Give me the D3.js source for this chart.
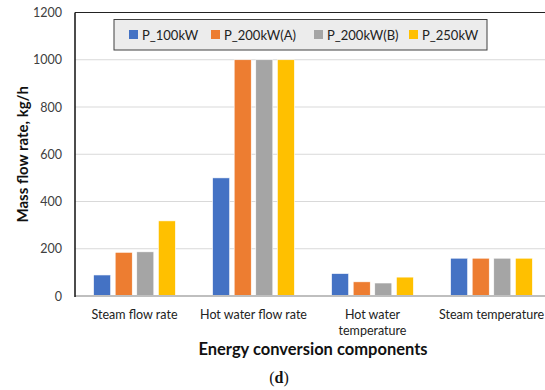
<!DOCTYPE html>
<html>
<head>
<meta charset="utf-8">
<script src="https://cdn.jsdelivr.net/npm/d3@7"></script>
<style>
  body { margin: 0; background: #fff; }
  svg { display: block; font-family: Lato, "Liberation Sans", sans-serif; }
</style>
</head>
<body>
<svg id="chart" width="545" height="390"></svg>
<script>
// data
var categories = ["Steam flow rate", "Hot water flow rate", "Hot water temperature", "Steam temperature"];
var catLines = [["Steam flow rate"], ["Hot water flow rate"], ["Hot water", "temperature"], ["Steam temperature"]];
var seriesNames = ["P_100kW", "P_200kW(A)", "P_200kW(B)", "P_250kW"];
var p100 = [89, 500, 95, 160];
var p200a = [185, 1000, 60, 160];
var p200b = [187, 1000, 55, 160];
var p250 = [318, 1000, 80, 160];
var yTicks = [0, 200, 400, 600, 800, 1000, 1200];
var colors = ["#4472C4", "#ED7D31", "#A5A5A5", "#FFC000"];

(function () {
    var values = [p100, p200a, p200b, p250];
    var svg = d3.select("#chart");

    var plotLeft = 75, plotRight = 551, plotTop = 12.5, plotBottom = 296;

    var x0 = d3.scaleBand().domain(categories).range([plotLeft, plotRight]).padding(0);
    var x1 = d3.scaleBand().domain(seriesNames)
        .range([18.6, x0.bandwidth() - 18.6])
        .paddingInner(0.21).paddingOuter(0);
    var y = d3.scaleLinear().domain([0, 1200]).range([plotBottom, plotTop]);
    var color = d3.scaleOrdinal().domain(seriesNames).range(colors);

    // gridlines
    svg.append("g").selectAll("line")
        .data(yTicks.filter(function (d) { return d > 0 && d < 1200; }))
        .enter().append("line")
        .attr("x1", plotLeft).attr("x2", 545)
        .attr("y1", function (d) { return y(d); })
        .attr("y2", function (d) { return y(d); })
        .attr("stroke", "#d9d9d9").attr("stroke-width", 1);

    // top border of plot area
    svg.append("line")
        .attr("x1", plotLeft).attr("x2", 545)
        .attr("y1", y(1200)).attr("y2", y(1200))
        .attr("stroke", "#222").attr("stroke-width", 1);

    // y axis
    var yAxis = d3.axisLeft(y).tickValues(yTicks).tickFormat(d3.format("d"))
        .tickSize(0).tickPadding(13);
    var gy = svg.append("g").attr("transform", "translate(" + plotLeft + ",0)").call(yAxis);
    gy.select(".domain").remove();
    gy.selectAll("text").attr("font-size", 12.5).attr("fill", "#404040")
        .attr("font-family", "Lato, sans-serif");

    // bars
    var groups = svg.append("g").selectAll("g")
        .data(categories)
        .enter().append("g")
        .attr("transform", function (d) { return "translate(" + x0(d) + ",0)"; });

    groups.selectAll("rect")
        .data(function (c, ci) {
            return seriesNames.map(function (s, si) { return { s: s, v: values[si][ci] }; });
        })
        .enter().append("rect")
        .attr("x", function (d) { return x1(d.s); })
        .attr("width", x1.bandwidth())
        .attr("y", function (d) { return y(d.v); })
        .attr("height", function (d) { return y(0) - y(d.v); })
        .attr("fill", function (d) { return color(d.s); })
        .attr("stroke", "#fff").attr("stroke-width", 0.6);

    // x axis line (gray) and left axis (black)
    svg.append("line")
        .attr("x1", plotLeft).attr("x2", 545)
        .attr("y1", y(0)).attr("y2", y(0))
        .attr("stroke", "#bfbfbf").attr("stroke-width", 2);
    svg.append("line")
        .attr("x1", plotLeft).attr("x2", plotLeft)
        .attr("y1", y(1200)).attr("y2", y(0) + 1)
        .attr("stroke", "#111").attr("stroke-width", 1.5);

    // category labels
    var xl = svg.append("g").selectAll("text")
        .data(categories)
        .enter().append("text")
        .attr("x", function (d) { return x0(d) + x0.bandwidth() / 2; })
        .attr("y", 319)
        .attr("text-anchor", "middle")
        .attr("font-size", 12.5).attr("fill", "#222");
    xl.selectAll("tspan")
        .data(function (d, i) { return catLines[i]; })
        .enter().append("tspan")
        .attr("x", function () { return d3.select(this.parentNode).attr("x"); })
        .attr("dy", function (d, i) { return i === 0 ? 0 : 16; })
        .text(function (d) { return d; });

    // axis titles
    svg.append("text")
        .attr("x", (plotLeft + plotRight) / 2).attr("y", 355)
        .attr("text-anchor", "middle")
        .attr("font-size", 16.5).attr("font-weight", "bold").attr("fill", "#111")
        .text("Energy conversion components");

    svg.append("text")
        .attr("transform", "translate(28," + ((plotTop + plotBottom) / 2) + ") rotate(-90)")
        .attr("text-anchor", "middle")
        .attr("font-size", 15).attr("font-weight", "bold").attr("fill", "#111")
        .text("Mass flow rate, kg/h");

    // panel letter
    var pl = svg.append("text")
        .attr("x", 279).attr("y", 383)
        .attr("text-anchor", "middle")
        .attr("font-family", "Liberation Serif, serif")
        .attr("font-size", 16).attr("fill", "#111");
    pl.append("tspan").text("(");
    pl.append("tspan").attr("font-weight", "bold").text("d");
    pl.append("tspan").text(")");

    // legend
    var legend = svg.append("g");
    legend.append("rect")
        .attr("x", 114).attr("y", 19.5).attr("width", 373).attr("height", 30.5)
        .attr("fill", "#ececec").attr("stroke", "#404040").attr("stroke-width", 1);
    var legX = [129, 211, 314, 409];
    var items = legend.selectAll("g.item")
        .data(seriesNames)
        .enter().append("g").attr("class", "item")
        .attr("transform", function (d, i) { return "translate(" + legX[i] + ",35)"; });
    items.append("rect")
        .attr("x", 0).attr("y", -5).attr("width", 9).attr("height", 9)
        .attr("fill", function (d) { return color(d); });
    items.append("text")
        .attr("x", 13).attr("y", 4.5)
        .attr("font-size", 13).attr("fill", "#222")
        .text(function (d) { return d; });
})();
</script>
</body>
</html>
